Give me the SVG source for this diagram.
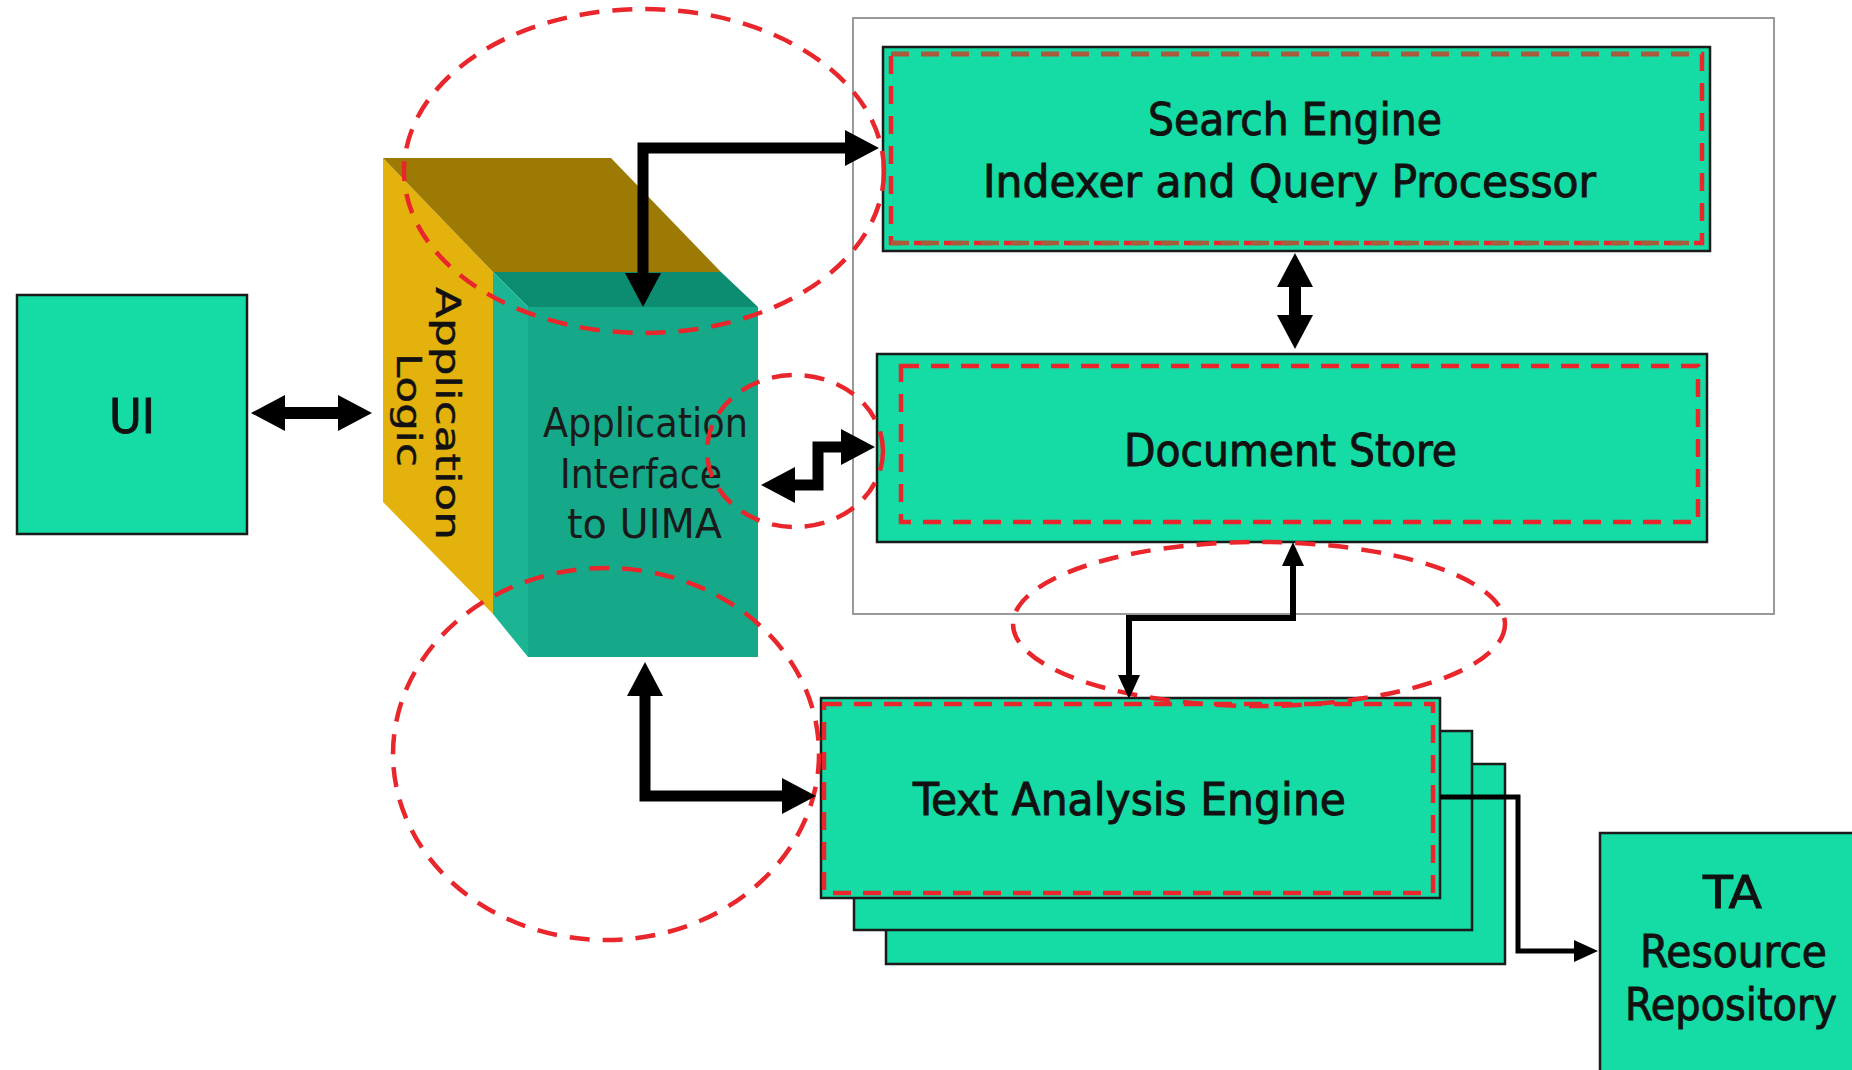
<svg xmlns="http://www.w3.org/2000/svg" width="1852" height="1070" viewBox="0 0 1852 1070">
<defs>
<style>
.box{fill:#14DCA4;stroke:#1b1b1b;stroke-width:2.5}
.dash{fill:none;stroke:#E8262B;stroke-width:4.5;stroke-dasharray:18 12}
.oval{fill:none;stroke:#E8262B;stroke-width:4.5;stroke-dasharray:20 13}
.lbl{font-family:"DejaVu Sans Condensed","DejaVu Sans",sans-serif;font-size:45px;fill:#111;stroke:#111;stroke-width:0.9}
.thin{font-size:40px;fill:#1a1a1a;stroke:none}
.side{font-size:34px;stroke-width:0.4}
.conn{fill:none;stroke:#000;stroke-linejoin:miter}
.thick{stroke-width:11}
.fine{stroke-width:6}
</style>
<marker id="hb" viewBox="0 0 34 36" markerWidth="34" markerHeight="36" refX="1" refY="18" markerUnits="userSpaceOnUse" orient="auto-start-reverse">
<path d="M0,0 L34,18 L0,36 z" fill="#000"/>
</marker>
<marker id="hs" viewBox="0 0 24 22" markerWidth="24" markerHeight="22" refX="1" refY="11" markerUnits="userSpaceOnUse" orient="auto-start-reverse">
<path d="M0,0 L24,11 L0,22 z" fill="#000"/>
</marker>
</defs>
<rect x="0" y="0" width="1852" height="1070" fill="#fff"/>

<g id="container">
<rect x="853" y="18" width="921" height="596" fill="none" stroke="#9a9a9a" stroke-width="2"/>
</g>

<g id="ui">
<rect class="box" x="17" y="295" width="230" height="239"/>
<text class="lbl" x="109" y="433" style="font-size:48px" textLength="46" lengthAdjust="spacingAndGlyphs">UI</text>
</g>

<g id="app-logic">
<polygon points="383,158 493,272 493,614 383,502" fill="#E4B20C"/>
<polygon points="383,158 611,158 721,272 493,272" fill="#9D7A04"/>
<text class="lbl side" transform="translate(436,413) rotate(90)" x="-126" y="0" textLength="253" lengthAdjust="spacingAndGlyphs">Application</text>
<text class="lbl side" transform="translate(397,410) rotate(90)" x="-57" y="0" textLength="114" lengthAdjust="spacingAndGlyphs">Logic</text>
</g>

<g id="app-interface">
<polygon points="493,272 721,272 758,307 528,307" fill="#0C8D72"/>
<polygon points="493,272 528,307 528,657 493,614" fill="#1BB594"/>
<rect x="528" y="307" width="230" height="350" fill="#15A98A"/>
<text class="lbl thin" x="543" y="437" textLength="205" lengthAdjust="spacingAndGlyphs">Application</text>
<text class="lbl thin" x="560" y="488" textLength="162" lengthAdjust="spacingAndGlyphs">Interface</text>
<text class="lbl thin" x="567" y="538" textLength="155" lengthAdjust="spacingAndGlyphs">to UIMA</text>
</g>

<g id="search-engine">
<rect class="box" x="883" y="47" width="827" height="204"/>
<rect class="dash" x="891" y="54" width="811" height="189"/>
<line x1="891" y1="54" x2="1702" y2="54" stroke="#A85C3C" stroke-width="4.5" stroke-dasharray="18 12"/>
<line x1="891" y1="243" x2="1702" y2="243" stroke="#A85C3C" stroke-width="4.5" stroke-dasharray="18 12"/>
<text class="lbl" x="1148" y="135" textLength="294" lengthAdjust="spacingAndGlyphs">Search Engine</text>
<text class="lbl" x="983" y="197" textLength="613" lengthAdjust="spacingAndGlyphs">Indexer and Query Processor</text>
</g>

<g id="document-store">
<rect class="box" x="877" y="354" width="830" height="188"/>
<rect class="dash" x="901" y="366" width="797" height="156"/>
<text class="lbl" x="1124" y="466" textLength="333" lengthAdjust="spacingAndGlyphs">Document Store</text>
</g>

<g id="text-analysis-engine">
<rect class="box" x="886" y="764" width="619" height="200"/>
<rect class="box" x="854" y="731" width="618" height="199"/>
<rect class="box" x="821" y="698" width="619" height="200"/>
<rect class="dash" x="824" y="704" width="609" height="189"/>
<text class="lbl" x="913" y="815" textLength="433" lengthAdjust="spacingAndGlyphs">Text Analysis Engine</text>
</g>

<g id="ta-resource-repository">
<rect class="box" x="1600" y="833" width="280" height="260"/>
<text class="lbl" x="1703" y="908" textLength="59" lengthAdjust="spacingAndGlyphs">TA</text>
<text class="lbl" x="1640" y="967" textLength="187" lengthAdjust="spacingAndGlyphs">Resource</text>
<text class="lbl" x="1625" y="1020" textLength="212" lengthAdjust="spacingAndGlyphs">Repository</text>
</g>

<g id="scopes">
<ellipse class="oval" cx="644" cy="171" rx="240" ry="162"/>
<ellipse class="oval" cx="606" cy="754" rx="213" ry="186"/>
<ellipse class="oval" cx="795" cy="451" rx="88" ry="76"/>
<ellipse class="oval" cx="1259" cy="624" rx="246" ry="82"/>
</g>

<g id="connectors">
<path class="conn thick" style="stroke-width:12" d="M284,413 L339,413" marker-start="url(#hb)" marker-end="url(#hb)"/>
<path class="conn thick" d="M643,274 L643,148 L846,148" marker-start="url(#hb)" marker-end="url(#hb)"/>
<path class="conn thick" d="M645,695 L645,796 L783,796" marker-start="url(#hb)" marker-end="url(#hb)"/>
<path class="conn thick" d="M794,485 L818,485 L818,447 L842,447" marker-start="url(#hb)" marker-end="url(#hb)"/>
<path class="conn thick" style="stroke-width:12" d="M1295,286 L1295,316" marker-start="url(#hb)" marker-end="url(#hb)"/>
<path class="conn fine" d="M1293,565 L1293,618 L1129,618 L1129,676" marker-start="url(#hs)" marker-end="url(#hs)"/>
<path class="conn" stroke-width="5" d="M1440,797 L1518,797 L1518,951 L1575,951" marker-end="url(#hs)"/>
</g>
</svg>
